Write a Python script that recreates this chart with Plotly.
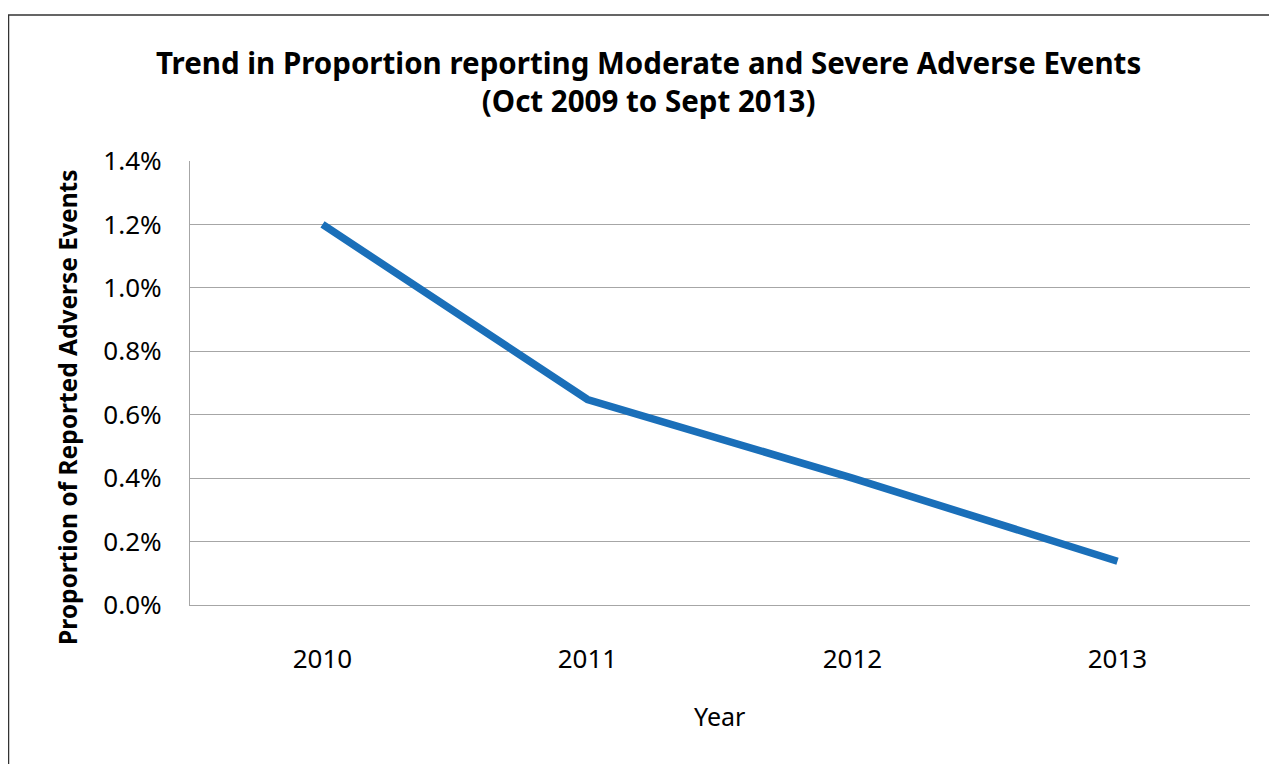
import plotly.graph_objects as go

years = ["2010", "2011", "2012", "2013"]
proportion = [0.0120, 0.00648, 0.00400, 0.00138]
y_ticks = [0, 0.002, 0.004, 0.006, 0.008, 0.010, 0.012, 0.014]

FONT = "Noto Sans"

# page offset of 8px (browser body margin) compensated in margins
L, T, PW, PH = 182, 153, 1060, 444


def px(xp):
    return (xp - 8 - L) / PW


def py(yp):
    return (T + PH - (yp - 8)) / PH


fig = go.Figure()
fig.add_trace(go.Scatter(
    x=years, y=proportion, mode="lines",
    line=dict(color="#1a6fb9", width=7.5),
    showlegend=False, hoverinfo="skip",
))

fig.update_layout(
    width=1277, height=764,
    margin=dict(l=L, r=1277 - L - PW, t=T, b=764 - T - PH),
    paper_bgcolor="white", plot_bgcolor="white",
    font=dict(family=FONT, color="black"),
    xaxis=dict(
        type="category", range=[-0.5, 3.5],
        showgrid=False, showline=True, linecolor="#a6a6a6", linewidth=1.3,
        ticks="", tickfont=dict(size=26, family=FONT),
        ticklabelstandoff=31, zeroline=False,
    ),
    yaxis=dict(
        range=[0, 0.014], tickvals=y_ticks, tickformat=".1%",
        showgrid=True, gridcolor="#a6a6a6", gridwidth=1.3,
        showline=True, linecolor="#a6a6a6", linewidth=1.3,
        ticks="", tickfont=dict(size=26, family=FONT),
        ticklabelstandoff=22, zeroline=False,
    ),
    annotations=[
        dict(text="<b>Trend in Proportion reporting Moderate and Severe Adverse Events</b><br><b>(Oct 2009 to Sept 2013)</b>",
             xref="paper", yref="paper", x=px(648), y=py(82),
             xanchor="center", yanchor="middle", showarrow=False,
             font=dict(size=29.5, family=FONT, color="black"), align="center"),
        dict(text="Year", xref="paper", yref="paper",
             x=px(719), y=py(716),
             xanchor="center", yanchor="middle", showarrow=False,
             font=dict(size=25, family=FONT, color="black")),
        dict(text="<b>Proportion of Reported Adverse Events</b>", xref="paper", yref="paper",
             x=px(67), y=py(407), textangle=-90,
             xanchor="center", yanchor="middle", showarrow=False,
             font=dict(size=24.5, family=FONT, color="black")),
    ],
    shapes=[
        dict(type="rect", xref="paper", yref="paper",
             x0=px(8.5), x1=px(1290),
             y0=py(780), y1=py(15),
             line=dict(color="#333333", width=1.5), fillcolor="rgba(0,0,0,0)", layer="below"),
    ],
)

fig.write_html("out.html")
